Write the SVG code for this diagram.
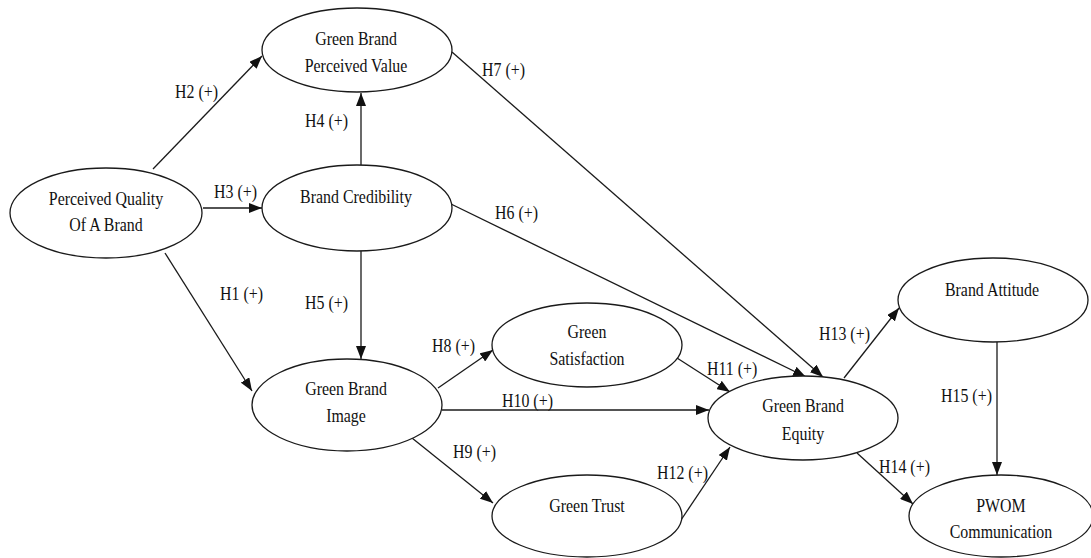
<svg xmlns="http://www.w3.org/2000/svg" width="1091" height="558" viewBox="0 0 1091 558">
<style>
.node ellipse{fill:#fff;stroke:#1a1a1a;stroke-width:1.3}
text{font-family:"Liberation Serif","Times New Roman",serif;font-size:18.5px;fill:#111}
.node text{text-anchor:middle}
.lbl{text-anchor:start}
.edge{stroke:#1a1a1a;stroke-width:1.3;fill:none;marker-end:url(#ah)}
</style>
<defs>
<marker id="ah" markerUnits="userSpaceOnUse" markerWidth="13" markerHeight="10" refX="13" refY="5" orient="auto">
<path d="M0,0 L13,5 L0,10 z" fill="#111"/>
</marker>
</defs>
<rect width="1091" height="558" fill="#fff"/>
<g id="connectors">
<line class="edge" x1="153" y1="169" x2="262" y2="56"/>
<line class="edge" x1="203" y1="208" x2="262" y2="208"/>
<line class="edge" x1="361" y1="165" x2="361" y2="93"/>
<line class="edge" x1="361" y1="251" x2="361" y2="359"/>
<line class="edge" x1="165" y1="253" x2="252" y2="391"/>
<line class="edge" x1="451" y1="204" x2="806" y2="377"/>
<line class="edge" x1="452" y1="52" x2="823" y2="377"/>
<line class="edge" x1="438" y1="388" x2="493" y2="350"/>
<line class="edge" x1="442" y1="410" x2="709" y2="410"/>
<line class="edge" x1="412" y1="438" x2="493" y2="503"/>
<line class="edge" x1="677" y1="358" x2="730" y2="392"/>
<line class="edge" x1="681" y1="520" x2="730" y2="447"/>
<line class="edge" x1="844" y1="378" x2="899" y2="308"/>
<line class="edge" x1="857" y1="453" x2="913" y2="504"/>
<line class="edge" x1="997" y1="342" x2="997" y2="475"/>
</g>
<g id="labels">
<text class="lbl" transform="matrix(0.86 0 0 1 175 0)" y="98">H2 (+)</text>
<text class="lbl" transform="matrix(0.86 0 0 1 305 0)" y="127">H4 (+)</text>
<text class="lbl" transform="matrix(0.86 0 0 1 214 0)" y="198">H3 (+)</text>
<text class="lbl" transform="matrix(0.86 0 0 1 482 0)" y="76">H7 (+)</text>
<text class="lbl" transform="matrix(0.86 0 0 1 495 0)" y="219">H6 (+)</text>
<text class="lbl" transform="matrix(0.86 0 0 1 220 0)" y="300">H1 (+)</text>
<text class="lbl" transform="matrix(0.86 0 0 1 305 0)" y="309">H5 (+)</text>
<text class="lbl" transform="matrix(0.86 0 0 1 432 0)" y="352">H8 (+)</text>
<text class="lbl" transform="matrix(0.86 0 0 1 453 0)" y="458">H9 (+)</text>
<text class="lbl" transform="matrix(0.86 0 0 1 502 0)" y="407">H10 (+)</text>
<text class="lbl" transform="matrix(0.86 0 0 1 707 0)" y="375">H11 (+)</text>
<text class="lbl" transform="matrix(0.86 0 0 1 657 0)" y="479">H12 (+)</text>
<text class="lbl" transform="matrix(0.86 0 0 1 819 0)" y="340">H13 (+)</text>
<text class="lbl" transform="matrix(0.86 0 0 1 879 0)" y="473">H14 (+)</text>
<text class="lbl" transform="matrix(0.86 0 0 1 941 0)" y="402">H15 (+)</text>
</g>
<g id="gbpv" class="node">
<ellipse cx="357" cy="50" rx="95" ry="42"/>
<text transform="matrix(0.86 0 0 1 356 0)" y="45">Green Brand</text>
<text transform="matrix(0.86 0 0 1 356 0)" y="72">Perceived Value</text>
</g>
<g id="pq" class="node">
<ellipse cx="106" cy="213" rx="96" ry="45"/>
<text transform="matrix(0.86 0 0 1 106 0)" y="205">Perceived Quality</text>
<text transform="matrix(0.86 0 0 1 106 0)" y="231">Of A Brand</text>
</g>
<g id="bc" class="node">
<ellipse cx="357" cy="208" rx="95" ry="43"/>
<text transform="matrix(0.86 0 0 1 356 0)" y="203">Brand Credibility</text>
</g>
<g id="gbi" class="node">
<ellipse cx="347" cy="405" rx="95" ry="46"/>
<text transform="matrix(0.86 0 0 1 346 0)" y="395">Green Brand</text>
<text transform="matrix(0.86 0 0 1 346 0)" y="422">Image</text>
</g>
<g id="gs" class="node">
<ellipse cx="587" cy="345" rx="95" ry="42"/>
<text transform="matrix(0.86 0 0 1 587 0)" y="338">Green</text>
<text transform="matrix(0.86 0 0 1 587 0)" y="365">Satisfaction</text>
</g>
<g id="gt" class="node">
<ellipse cx="587" cy="516" rx="95" ry="41"/>
<text transform="matrix(0.86 0 0 1 587 0)" y="512">Green Trust</text>
</g>
<g id="gbe" class="node">
<ellipse cx="803" cy="418" rx="95" ry="42"/>
<text transform="matrix(0.86 0 0 1 803 0)" y="412">Green Brand</text>
<text transform="matrix(0.86 0 0 1 803 0)" y="440">Equity</text>
</g>
<g id="ba" class="node">
<ellipse cx="993" cy="300" rx="95" ry="42"/>
<text transform="matrix(0.86 0 0 1 992 0)" y="296">Brand Attitude</text>
</g>
<g id="pwom" class="node">
<ellipse cx="1001" cy="516" rx="92" ry="41"/>
<text transform="matrix(0.86 0 0 1 1001 0)" y="512">PWOM</text>
<text transform="matrix(0.86 0 0 1 1001 0)" y="538">Communication</text>
</g>
</svg>
